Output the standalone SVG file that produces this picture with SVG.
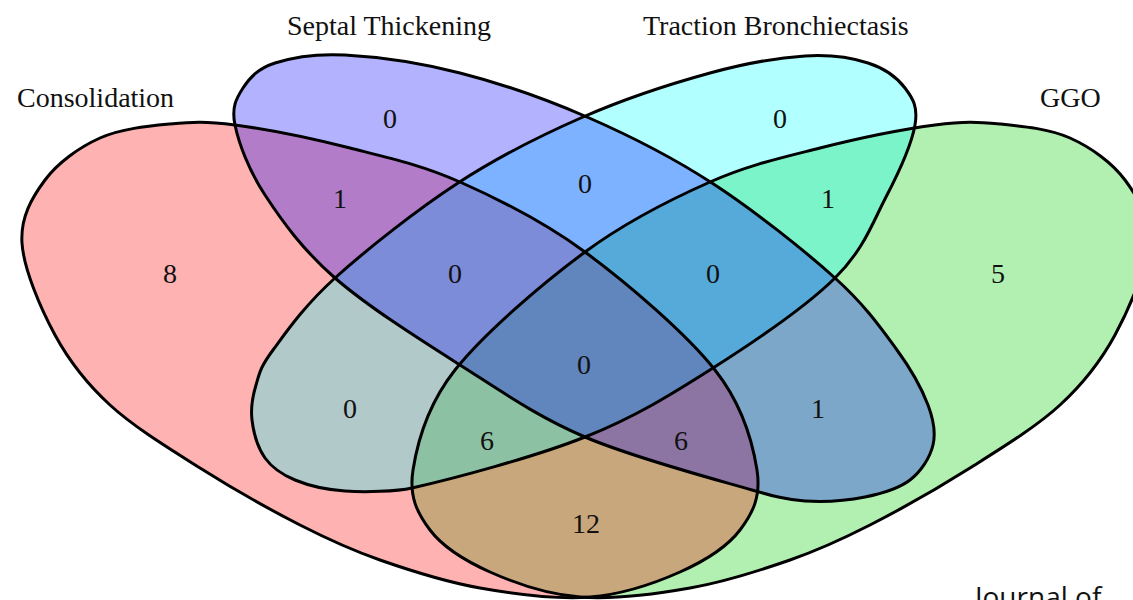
<svg xmlns="http://www.w3.org/2000/svg" width="1133" height="600" viewBox="0 0 1133 600">
<style>
.fill{stroke:none;fill-opacity:0.3}
.edge{fill:none;stroke:#000;stroke-width:3;stroke-linejoin:round}
.lbl{font-family:"Liberation Serif","Times New Roman",serif;font-size:28px;fill:#111}
.num{font-family:"Liberation Serif","Times New Roman",serif;font-size:28px;fill:#111;text-anchor:middle}
.wm{font-family:"Open Sans","Noto Sans",sans-serif;font-size:28px;fill:#111}
</style>
<defs>
<path id="consShape" d="M22,243 C20.33,217.17 32,197.5 45,180 C58,162.5 79.17,147.33 100,138 C120.83,128.67 147.5,126.17 170,124 C192.5,121.83 205,121 235,125 C265,129 312.5,138.5 350,148 C387.5,157.5 420.83,164.67 460,182 C499.17,199.33 542.5,220.67 585,252 C627.5,283.33 686.33,333.67 715,370 C743.67,406.33 752.83,443.33 757,470 C761.17,496.67 752.83,513 740,530 C727.17,547 705,560.83 680,572 C655,583.17 623.33,594.33 590,597 C556.67,599.67 515,594.17 480,588 C445,581.83 410,570.5 380,560 C350,549.5 330,540.33 300,525 C270,509.67 231.67,488 200,468 C168.33,448 134.17,427.17 110,405 C85.83,382.83 69.67,362 55,335 C40.33,308 23.67,268.83 22,243 Z"/>
<path id="septShape" d="M345,55 C375.83,56.67 419.67,62.67 460,73 C500.33,83.33 545,98.67 587,117 C629,135.33 670.67,156.17 712,183 C753.33,209.83 804.17,250.17 835,278 C865.83,305.83 881.5,328.83 897,350 C912.5,371.17 922,389.17 928,405 C934,420.83 936,432.5 933,445 C930,457.5 921.33,471.33 910,480 C898.67,488.67 882.5,493.5 865,497 C847.5,500.5 823.83,502.17 805,501 C786.17,499.83 770.3,495.3 752,490 C715.33,479.33 633.67,457.83 585,437 C536.33,416.17 501.67,391.5 460,365 C418.33,338.5 367.5,306.33 335,278 C302.5,249.67 281.67,220.5 265,195 C248.33,169.5 238.67,142.83 235,125 C231.33,107.17 236.33,98.33 243,88 C249.67,77.67 258,68.5 275,63 C292,57.5 314.17,53.33 345,55 Z"/>
<path id="tracShape" d="M805,56 C778.67,57.67 747,62.83 710,73 C673,83.17 625,98.67 583,117 C541,135.33 499.33,156.17 458,183 C416.67,209.83 365.83,250.17 335,278 C304.17,305.83 286.17,332.17 273,350 C259.83,367.83 259.5,373.33 256,385 C252.5,396.67 250.5,407.83 252,420 C253.5,432.17 257.83,448 265,458 C272.17,468 281.67,474.5 295,480 C308.33,485.5 325.5,489.67 345,491 C364.5,492.33 396,491.6 412,488 C452,479 534.83,457 585,437 C635.17,417 671.33,394.5 713,368 C754.67,341.5 806.17,306.5 835,278 C863.83,249.5 872.67,222.5 886,197 C899.33,171.5 911.83,143.17 915,125 C918.17,106.83 912.83,98.33 905,88 C897.17,77.67 884.67,68.33 868,63 C851.33,57.67 831.33,54.33 805,56 Z"/>
</defs>
<g id="fills">
<use href="#consShape" class="fill" fill="#00cd00" transform="translate(1170,0) scale(-1,1)"/>
<use href="#consShape" class="fill" fill="#ff0000"/>
<use href="#tracShape" class="fill" fill="#00ffff"/>
<use href="#septShape" class="fill" fill="#0000ff"/>
</g>
<g id="ggo"><use href="#consShape" class="edge" transform="translate(1170,0) scale(-1,1)"/><text class="lbl" x="1040" y="107">GGO</text></g>
<g id="consolidation"><use href="#consShape" class="edge"/><text class="lbl" x="17" y="107">Consolidation</text></g>
<g id="traction"><use href="#tracShape" class="edge"/><text class="lbl" x="643" y="35">Traction Bronchiectasis</text></g>
<g id="septal"><use href="#septShape" class="edge"/><text class="lbl" x="287" y="35">Septal Thickening</text></g>
<g id="counts">
<text class="num" x="390" y="128">0</text>
<text class="num" x="780" y="128">0</text>
<text class="num" x="340" y="208">1</text>
<text class="num" x="585" y="193">0</text>
<text class="num" x="828" y="208">1</text>
<text class="num" x="170" y="283">8</text>
<text class="num" x="455" y="283">0</text>
<text class="num" x="713" y="283">0</text>
<text class="num" x="998" y="283">5</text>
<text class="num" x="584" y="374">0</text>
<text class="num" x="350" y="418">0</text>
<text class="num" x="818" y="418">1</text>
<text class="num" x="487" y="450">6</text>
<text class="num" x="681" y="450">6</text>
<text class="num" x="586" y="533">12</text>
</g>
<text class="wm" x="975" y="607">Journal of</text>
</svg>
